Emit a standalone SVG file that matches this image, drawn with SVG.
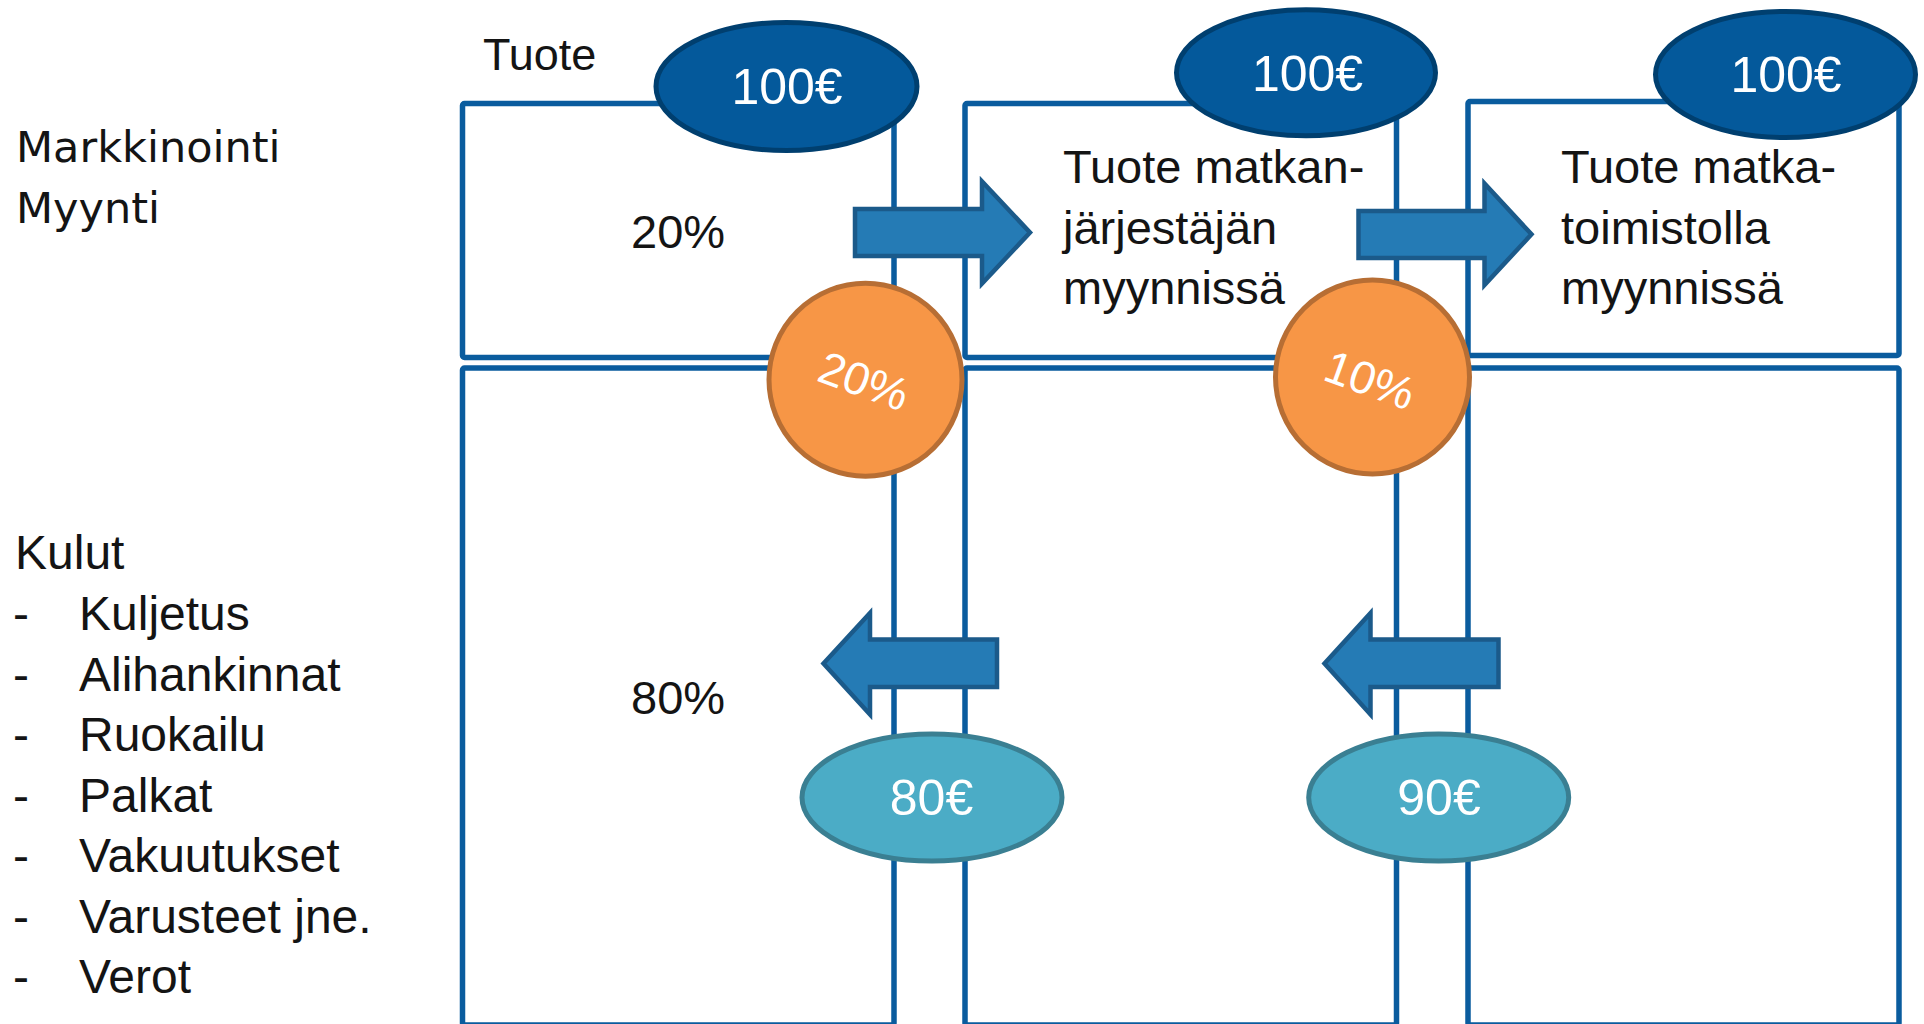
<svg xmlns="http://www.w3.org/2000/svg" width="1924" height="1024" viewBox="0 0 1924 1024">
  <style>
    .box { fill: #ffffff; stroke: #0a5c9e; stroke-width: 5.5; }
    .price { fill: #04599b; stroke: #003f6f; stroke-width: 5; }
    .share { fill: #f79646; stroke: #b76e34; stroke-width: 5; }
    .cost { fill: #4bacc6; stroke: #3a7f92; stroke-width: 5; }
    .arrow { fill: #257bb5; stroke: #1b5a8a; stroke-width: 4.5; stroke-linejoin: miter; }
    .t { font-family: "Liberation Sans", Arial, sans-serif; fill: #141414; }
    .w { font-family: "Liberation Sans", Arial, sans-serif; fill: #ffffff; }
    .dv { font-family: "DejaVu Sans", Verdana, sans-serif; fill: #141414; }
  </style>

  <rect width="1924" height="1024" fill="#ffffff"/>

  <!-- Left labels -->
  <g id="label-markkinointi">
    <text class="dv" x="16" y="162" font-size="43">Markkinointi</text>
    <text class="dv" x="16" y="223" font-size="43">Myynti</text>
  </g>
  <g id="label-kulut" class="t" font-size="48">
    <text x="15" y="569">Kulut</text>
    <text x="13" y="630">-</text><text x="79" y="630">Kuljetus</text>
    <text x="13" y="691">-</text><text x="79" y="691">Alihankinnat</text>
    <text x="13" y="751">-</text><text x="79" y="751">Ruokailu</text>
    <text x="13" y="812">-</text><text x="79" y="812">Palkat</text>
    <text x="13" y="872">-</text><text x="79" y="872">Vakuutukset</text>
    <text x="13" y="933">-</text><text x="79" y="933">Varusteet jne.</text>
    <text x="13" y="993">-</text><text x="79" y="993">Verot</text>
  </g>

  <!-- Column boxes -->
  <g id="box-producer-top">
    <rect class="box" x="462.5" y="103.5" width="431.5" height="254" rx="2"/>
    <text class="t" x="631" y="248" font-size="47">20%</text>
  </g>
  <g id="box-producer-bottom">
    <rect class="box" x="462.5" y="368" width="431.5" height="657" rx="2"/>
    <text class="t" x="631" y="714" font-size="47">80%</text>
  </g>
  <g id="box-organizer-top">
    <rect class="box" x="965" y="103.5" width="431.5" height="254" rx="2"/>
    <text class="t" font-size="47"><tspan x="1063" y="183">Tuote matkan-</tspan><tspan x="1063" y="243.5">järjestäjän</tspan><tspan x="1063" y="304">myynnissä</tspan></text>
  </g>
  <g id="box-organizer-bottom">
    <rect class="box" x="965" y="368" width="431.5" height="657" rx="2"/>
  </g>
  <g id="box-agency-top">
    <rect class="box" x="1468" y="101.5" width="431" height="254" rx="2"/>
    <text class="t" font-size="47"><tspan x="1561" y="183">Tuote matka-</tspan><tspan x="1561" y="243.5">toimistolla</tspan><tspan x="1561" y="304">myynnissä</tspan></text>
  </g>
  <g id="box-agency-bottom">
    <rect class="box" x="1468" y="368" width="431" height="657" rx="2"/>
  </g>

  <g id="label-tuote">
    <text class="t" x="483" y="70" font-size="45">Tuote</text>
  </g>

  <!-- Connectors (block arrows) -->
  <g id="connectors">
    <polygon class="arrow" points="855,209 982,209 982,181.5 1030,232.5 982,283.5 982,256 855,256"/>
    <polygon class="arrow" points="1358.5,211 1484.5,211 1484.5,183.5 1531.5,234.3 1484.5,285 1484.5,258 1358.5,258"/>
    <polygon class="arrow" points="997,639.5 870,639.5 870,613 823.5,663.5 870,714.5 870,687 997,687"/>
    <polygon class="arrow" points="1498.5,639.5 1370.5,639.5 1370.5,613 1324.5,663.5 1370.5,714.5 1370.5,687 1498.5,687"/>
  </g>

  <!-- Price ellipses -->
  <g id="price-producer">
    <ellipse class="price" cx="786.5" cy="86.5" rx="130.5" ry="64"/>
    <text class="w" x="787" y="104" font-size="50" text-anchor="middle">100€</text>
  </g>
  <g id="price-organizer">
    <ellipse class="price" cx="1306" cy="72.8" rx="129.5" ry="63"/>
    <text class="w" x="1307.5" y="90.5" font-size="50" text-anchor="middle">100€</text>
  </g>
  <g id="price-agency">
    <ellipse class="price" cx="1785.5" cy="74.5" rx="130" ry="63"/>
    <text class="w" x="1786" y="91.5" font-size="50" text-anchor="middle">100€</text>
  </g>

  <!-- Share circles -->
  <g id="share-producer">
    <circle class="share" cx="865.5" cy="379.7" r="96.5"/>
    <text class="w" font-size="46" text-anchor="middle" transform="translate(864,381) rotate(20)" y="16">20%</text>
  </g>
  <g id="share-organizer">
    <circle class="share" cx="1372.5" cy="377" r="97"/>
    <text class="w" font-size="46" text-anchor="middle" transform="translate(1370,380) rotate(20)" y="16">10%</text>
  </g>

  <!-- Cost ellipses -->
  <g id="cost-producer">
    <ellipse class="cost" cx="932" cy="797.5" rx="130" ry="63.5"/>
    <text class="w" x="931.5" y="815" font-size="50" text-anchor="middle">80€</text>
  </g>
  <g id="cost-organizer">
    <ellipse class="cost" cx="1438.7" cy="797.5" rx="130" ry="63.5"/>
    <text class="w" x="1439" y="815" font-size="50" text-anchor="middle">90€</text>
  </g>
</svg>
